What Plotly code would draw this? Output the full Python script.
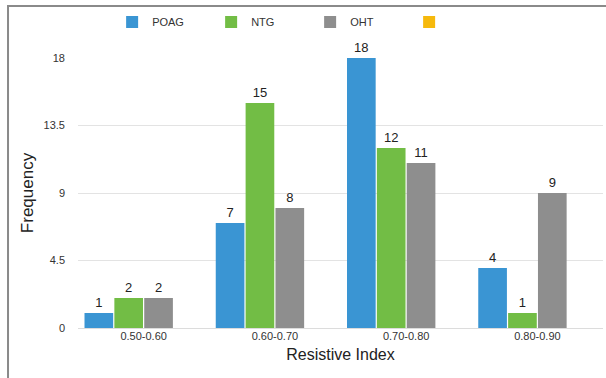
import plotly.graph_objects as go

categories = ["0.50-0.60", "0.60-0.70", "0.70-0.80", "0.80-0.90"]
poag = [1, 7, 18, 4]
ntg = [2, 15, 12, 1]
oht = [2, 8, 11, 9]
other = [None, None, None, None]
y_ticks = [0, 4.5, 9, 13.5, 18]
y_tick_labels = ["0", "4.5", "9", "13.5", "18"]

series = [
    ("POAG", poag, "#3a95d3"),
    ("NTG", ntg, "#72bd45"),
    ("OHT", oht, "#8e8e8e"),
    ("", other, "#f6b90c"),
]

fig = go.Figure()
for name, vals, color in series:
    fig.add_trace(go.Bar(
        x=categories, y=vals, name=name,
        marker=dict(color=color, line=dict(width=0)),
        text=[None if v is None else str(v) for v in vals],
        textposition="outside",
        textfont=dict(size=13, color="#222", family="Liberation Sans"),
        cliponaxis=False,
        showlegend=True,
    ))

fig.update_layout(
    width=606, height=378,
    margin=dict(l=78, r=3, t=58, b=50, autoexpand=False),
    paper_bgcolor="white", plot_bgcolor="white",
    font=dict(family="Liberation Sans", color="#333"),
    barmode="group", bargap=0.09, bargroupgap=0.04,
    legend=dict(
        orientation="h", x=0.065, y=1.133, xanchor="left", yanchor="middle",
        entrywidth=54, entrywidthmode="pixels",
        font=dict(size=11, color="#333"),
        itemclick=False, bgcolor="rgba(0,0,0,0)",
    ),
    xaxis=dict(
        showgrid=False, showline=False, ticks="",
        tickfont=dict(size=11, color="#333"),
        title=dict(text="Resistive Index", font=dict(size=16, color="#222"), standoff=7),
    ),
    yaxis=dict(
        range=[0, 18], tickvals=y_ticks, ticktext=y_tick_labels,
        showgrid=True, gridcolor="#e3e3e3", gridwidth=1,
        zeroline=True, zerolinecolor="#dcdcdc", zerolinewidth=1,
        tickfont=dict(size=11, color="#333"), ticklabelstandoff=12,
        title=dict(text="Frequency", font=dict(size=17, color="#222"), standoff=5),
    ),
    shapes=[
        dict(type="rect", xref="paper", yref="paper",
             x0=-0.1333, x1=1.05, y0=-0.4, y1=1.1926,
             line=dict(color="#8a8a8a", width=2), fillcolor="rgba(0,0,0,0)", layer="above"),
    ],
)

fig.write_html("out.html")
